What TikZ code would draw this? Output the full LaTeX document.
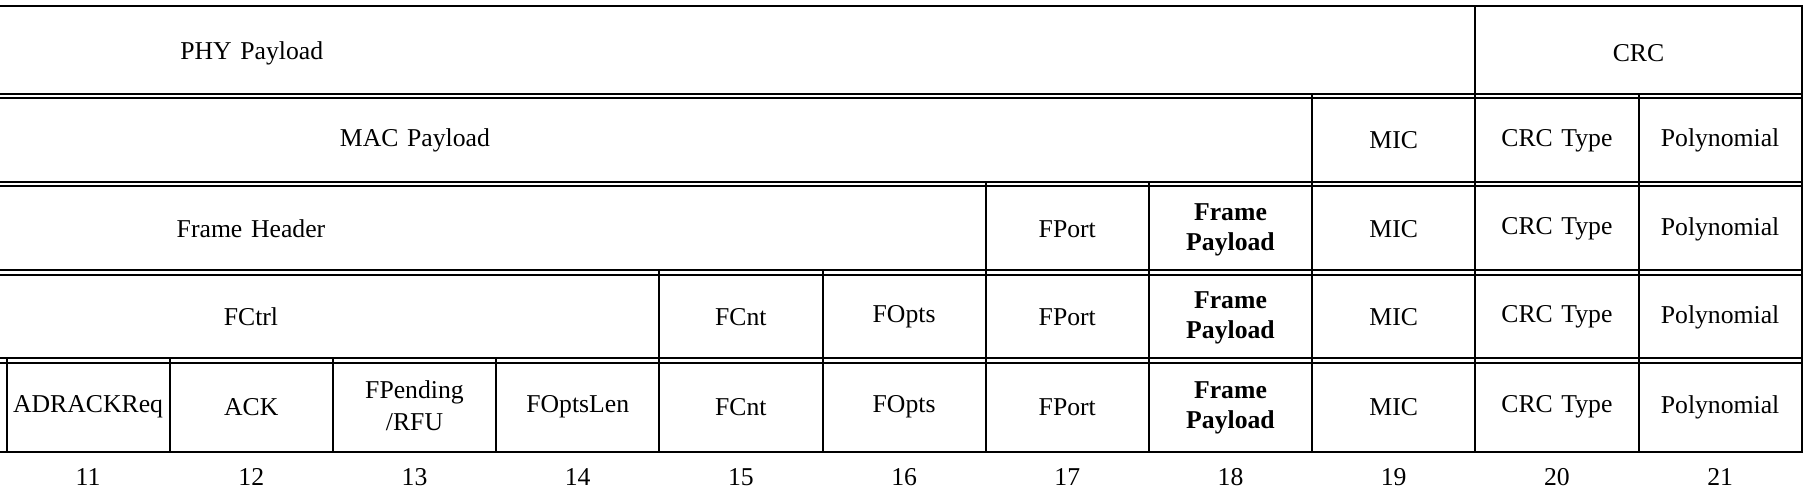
\documentclass[tikz,border=0pt]{standalone}
\usepackage{fontspec}
\setmainfont{Liberation Serif}[WordSpace=1.35]
\begin{document}
\begin{tikzpicture}[x=0.5pt,y=-0.5pt,
  rule/.style={line width=1pt, line cap=rect},
  cell/.style={inner sep=0pt, align=center, font=\fontsize{12.85}{14.7}\selectfont},
  bcell/.style={cell, font=\fontsize{12.85}{14.7}\selectfont\bfseries},
  tallcell/.style={cell, font=\fontsize{12.85}{15.85}\selectfont},
  num/.style={cell}]
\useasboundingbox (0,0) rectangle (1810,496);
% horizontal rules
\foreach \y in {6,94,98.5,182,186.5,270.5,275,358.5,363,452}
  \draw[rule] (0,\y) -- (1801.7,\y);
% vertical rules
\foreach \x/\t in {6.5/358.5,169.7/358.5,332.9/358.5,496.1/358.5,659.3/270.5,822.5/270.5,985.7/182,1148.9/182,1312.1/94,1475.3/6,1638.5/94,1801.7/6}
  \draw[rule] (\x,\t) -- (\x,452);
% row 1
\node[cell] (phy) at (251.7,53.5) {PHY Payload};
\node[cell] (crc) at (1638.5,53.5) {CRC};
% row 2
\node[cell] (mac) at (415,140.5) {MAC Payload};
\node[cell] (mic2) at (1393.7,140.5) {MIC};
\node[cell] (ctype2) at (1556.9,140.5) {CRC Type};
\node[cell] (poly2) at (1720.1,140.5) {Polynomial};
% row 3
\node[cell] (fhdr) at (251,229) {Frame Header};
% row 4
\node[cell] (fctrl) at (251,317) {FCtrl};
\node[cell] (fcnt4) at (740.9,317) {FCnt};
\node[cell] (fopts4) at (904.1,317) {FOpts};
% row 5
\node[cell] (adr) at (88.1,407) {ADRACKReq};
\node[cell] (ack) at (251.3,407) {ACK};
\node[tallcell] (fpend) at (414.5,406) {FPending\\/RFU};
\node[cell] (foptslen) at (577.7,407) {FOptsLen};
\node[cell] (fcnt5) at (740.9,407) {FCnt};
\node[cell] (fopts5) at (904.1,407) {FOpts};
% repeated right-hand cells, rows 3 to 5
\foreach \r/\y in {3/229,4/317,5/407}{
  \node[cell] (fport\r) at (1067.3,\y) {FPort};
  \node[bcell] (fpay\r) at (1230.5,\y+1) {Frame\\Payload};
  \node[cell] (mic\r) at (1393.7,\y) {MIC};
  \node[cell] (ctype\r) at (1556.9,\y) {CRC Type};
  \node[cell] (poly\r) at (1720.1,\y) {Polynomial};
}
% column numbers
\foreach \n [count=\i from 0] in {11,...,21}
  \node[num] (n\n) at (88.1+163.2*\i,477) {\n};
\end{tikzpicture}
\end{document}
